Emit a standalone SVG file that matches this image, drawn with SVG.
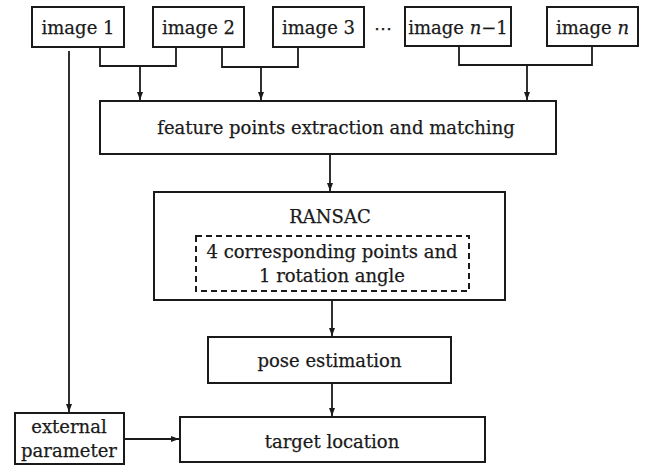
<svg xmlns="http://www.w3.org/2000/svg" width="650" height="465" viewBox="0 0 650 465">
<defs>
<marker id="ah" markerUnits="userSpaceOnUse" markerWidth="8" markerHeight="8" viewBox="0 0 8 8" refX="8" refY="4" orient="auto">
<path d="M0,1 L8,4 L0,7 Z" fill="#1a1a1a"/>
</marker>
<style>
rect.box{fill:#fff;stroke:#1a1a1a;stroke-width:2}
rect.dash{fill:none;stroke:#1a1a1a;stroke-width:2;stroke-dasharray:6,4}
text{font-family:"DejaVu Serif","Liberation Serif",serif;font-size:18px;fill:#1a1a1a;text-anchor:middle;stroke:#1a1a1a;stroke-width:0.25}
.c{fill:none;stroke:#1a1a1a;stroke-width:1.8}
.a{fill:none;stroke:#1a1a1a;stroke-width:1.8;marker-end:url(#ah)}
</style>
</defs>
<rect width="650" height="465" fill="#fff"/>
<g id="connectors">
<path class="c" d="M100,47 V66 H176 V47"/>
<path class="a" d="M140,66 V100"/>
<path class="c" d="M222,47 V67 H298 V47"/>
<path class="a" d="M261,67 V100"/>
<path class="c" d="M459,46 V65 H592 V46"/>
<path class="a" d="M527,65 V100"/>
<path class="a" d="M69,51 V412"/>
<path class="a" d="M330,154 V191"/>
<path class="a" d="M332,300 V336"/>
<path class="a" d="M332,383 V416"/>
<path class="a" d="M124,439 H179"/>
</g>
<g id="image1"><rect class="box" x="32" y="7" width="92" height="40"/><text x="78" y="34">image 1</text></g>
<g id="image2"><rect class="box" x="153" y="7" width="91" height="40"/><text x="198.5" y="34">image 2</text></g>
<g id="image3"><rect class="box" x="273" y="7" width="91" height="40"/><text x="318.5" y="34">image 3</text></g>
<g id="ellipsis"><text x="383" y="34">⋯</text></g>
<g id="imagen1"><rect class="box" x="405" y="7" width="106" height="39"/><text x="458" y="34">image <tspan font-style="italic">n</tspan>−1</text></g>
<g id="imagen"><rect class="box" x="547" y="7" width="91" height="39"/><text x="592.5" y="34">image <tspan font-style="italic">n</tspan></text></g>
<g id="feature"><rect class="box" x="100" y="101" width="456" height="53"/><text x="336" y="134">feature points extraction and matching</text></g>
<g id="ransac"><rect class="box" x="154" y="192" width="351" height="108"/><text x="330" y="223">RANSAC</text>
<rect class="dash" x="196" y="236" width="273" height="55"/>
<text x="332" y="258">4 corresponding points and</text>
<text x="332" y="282">1 rotation angle</text></g>
<g id="pose"><rect class="box" x="208" y="337" width="243" height="46"/><text x="329.5" y="367">pose estimation</text></g>
<g id="target"><rect class="box" x="180" y="417" width="305" height="45"/><text x="332" y="448">target location</text></g>
<g id="external"><rect class="box" x="15" y="413" width="109" height="51"/><text x="69" y="433">external</text><text x="69" y="457">parameter</text></g>
</svg>
